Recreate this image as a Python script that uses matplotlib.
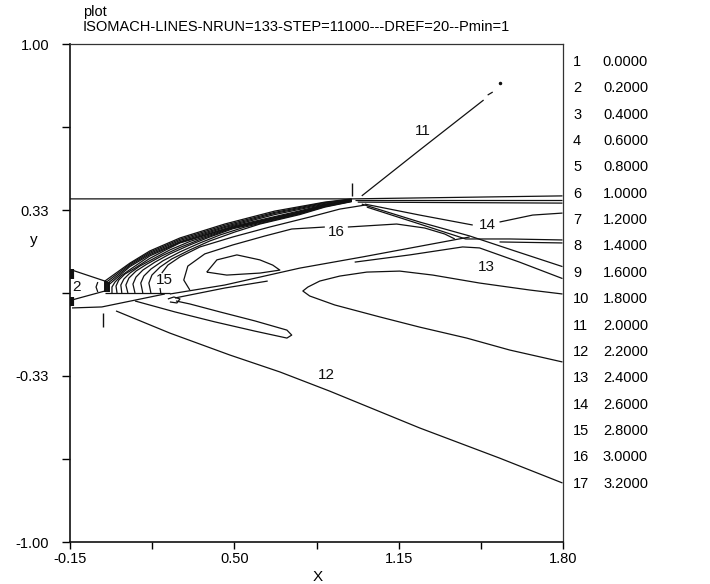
import matplotlib
matplotlib.use('Agg')
import matplotlib.pyplot as plt

plt.rcParams['font.family'] = ['Liberation Sans', 'DejaVu Sans']

# ---------------- text / ticks ----------------
title_top = "plot"
title_main = "ISOMACH-LINES-NRUN=133-STEP=11000---DREF=20--Pmin=1"
x_label = "X"
y_label = "y"

x_ticks = [-0.15, 0.175, 0.50, 0.825, 1.15, 1.475, 1.80]
x_tick_labels = ['-0.15', '', '0.50', '', '1.15', '', '1.80']
y_ticks = [-1.0, -0.6667, -0.3333, 0.0, 0.3333, 0.6667, 1.0]
y_tick_labels = ['-1.00', '', '-0.33', '', '0.33', '', '1.00']

level_ids = [1, 2, 3, 4, 5, 6, 7, 8, 9, 10, 11, 12, 13, 14, 15, 16, 17]
level_values = [0.0, 0.2, 0.4, 0.6, 0.8, 1.0, 1.2, 1.4, 1.6, 1.8,
                2.0, 2.2, 2.4, 2.6, 2.8, 3.0, 3.2]

# ---------------- contour-line data (x, y) ----------------
# outer shock bundle
env0_x = [-0.012, 0.087, 0.166, 0.285, 0.462, 0.660, 0.858, 0.964]
env0_y = [0.048, 0.120, 0.169, 0.221, 0.277, 0.329, 0.365, 0.378]
env1_x = [-0.008, 0.087, 0.166, 0.285, 0.462, 0.660, 0.858, 0.964]
env1_y = [0.042, 0.116, 0.164, 0.216, 0.272, 0.324, 0.363, 0.376]
env2_x = [-0.004, 0.087, 0.166, 0.285, 0.462, 0.660, 0.858, 0.964]
env2_y = [0.036, 0.111, 0.159, 0.211, 0.267, 0.320, 0.360, 0.375]
env3_x = [0.000, 0.087, 0.166, 0.285, 0.462, 0.660, 0.858, 0.964]
env3_y = [0.030, 0.106, 0.154, 0.206, 0.263, 0.315, 0.357, 0.373]

# fan lines rising from the plate
fan1_x = [0.016, 0.016, 0.028, 0.051, 0.087, 0.166, 0.285, 0.494, 0.759, 0.858, 0.964]
fan1_y = [0.000, 0.024, 0.044, 0.068, 0.094, 0.149, 0.203, 0.268, 0.330, 0.355, 0.372]
fan2_x = [0.036, 0.032, 0.043, 0.067, 0.107, 0.166, 0.225, 0.285, 0.494, 0.759, 0.858, 0.964]
fan2_y = [0.000, 0.028, 0.052, 0.076, 0.100, 0.139, 0.171, 0.201, 0.265, 0.327, 0.353, 0.371]
fan3_x = [0.055, 0.051, 0.063, 0.087, 0.126, 0.186, 0.245, 0.324, 0.494, 0.759, 0.858, 0.964]
fan3_y = [0.000, 0.032, 0.056, 0.080, 0.108, 0.141, 0.173, 0.207, 0.263, 0.325, 0.352, 0.371]
fan4_x = [0.079, 0.071, 0.083, 0.111, 0.154, 0.213, 0.285, 0.364, 0.494, 0.759, 0.858, 0.964]
fan4_y = [0.000, 0.032, 0.060, 0.088, 0.116, 0.149, 0.183, 0.215, 0.261, 0.322, 0.350, 0.370]
fan5_x = [0.107, 0.099, 0.111, 0.138, 0.186, 0.245, 0.324, 0.403, 0.494, 0.759, 0.858, 0.964]
fan5_y = [0.000, 0.036, 0.064, 0.092, 0.124, 0.157, 0.193, 0.225, 0.258, 0.320, 0.349, 0.369]
fan6_x = [0.138, 0.130, 0.142, 0.170, 0.217, 0.285, 0.364, 0.443, 0.542, 0.759, 0.858, 0.964]
fan6_y = [0.000, 0.040, 0.068, 0.096, 0.129, 0.165, 0.201, 0.233, 0.265, 0.318, 0.347, 0.368]
fan7_x = [0.170, 0.162, 0.174, 0.206, 0.253, 0.324, 0.403, 0.502, 0.601, 0.759, 0.858, 0.964]
fan7_y = [0.000, 0.040, 0.072, 0.104, 0.137, 0.173, 0.209, 0.245, 0.277, 0.315, 0.345, 0.367]

# level 15 line (split around its label)
l15a_x = [0.209, 0.206]
l15a_y = [0.000, 0.020]
l15b_x = [0.213, 0.237, 0.285, 0.364, 0.494, 0.640, 0.798, 0.917, 1.016]
l15b_y = [0.080, 0.112, 0.145, 0.185, 0.225, 0.265, 0.305, 0.337, 0.353]

# level 16 line (split around its label)
l16a_x = [0.324, 0.300, 0.316, 0.383, 0.494, 0.621, 0.727, 0.858]
l16a_y = [0.012, 0.052, 0.108, 0.157, 0.193, 0.229, 0.257, 0.265]
l16b_x = [0.949, 1.142, 1.253, 1.332, 1.372]
l16b_y = [0.265, 0.277, 0.261, 0.237, 0.217]

# island (closed)
island_x = [0.391, 0.431, 0.510, 0.601, 0.652, 0.680, 0.601, 0.470, 0.391]
island_y = [0.084, 0.133, 0.153, 0.133, 0.112, 0.092, 0.080, 0.072, 0.084]

# shear line from the trailing edge to the crossing
cross_x = [0.245, 0.462, 0.759, 1.008, 1.431]
cross_y = [-0.004, 0.032, 0.100, 0.145, 0.225]
short_x = [0.265, 0.462, 0.632]
short_y = [-0.020, 0.020, 0.048]

# level 13 region
c13_x = [1.798, 1.668, 1.470, 1.285, 1.154, 1.024, 0.917, 0.838, 0.791, 0.771,
         0.798, 0.897, 1.075, 1.233, 1.419, 1.589, 1.798]
c13_y = [-0.004, 0.012, 0.040, 0.072, 0.088, 0.084, 0.068, 0.048, 0.024, 0.008,
         -0.012, -0.048, -0.096, -0.137, -0.181, -0.229, -0.277]
lx_x = [0.976, 1.194, 1.403, 1.470, 1.628, 1.798]
lx_y = [0.124, 0.153, 0.185, 0.181, 0.124, 0.058]

# lines leaving the shock peak
la_x = [1.004, 1.233, 1.431, 1.609, 1.798]
la_y = [0.357, 0.285, 0.229, 0.169, 0.106]
lb_x = [1.024, 1.233, 1.415, 1.589, 1.798]
lb_y = [0.345, 0.277, 0.217, 0.217, 0.213]
l14a_x = [1.016, 1.233, 1.443]
l14a_y = [0.357, 0.313, 0.273]
l14b_x = [1.549, 1.680, 1.798]
l14b_y = [0.285, 0.313, 0.321]
lh_x = [1.549, 1.798]
lh_y = [0.205, 0.201]

# top wall and lines right of peak
wall_x = [-0.150, 0.964, 1.798]
wall_y = [0.378, 0.378, 0.390]
p2_x = [0.976, 1.391, 1.798]
p2_y = [0.373, 0.373, 0.373]
p3_x = [0.988, 1.391, 1.798]
p3_y = [0.365, 0.363, 0.361]

# body / nozzle
plate_x = [-0.012, 0.245]
plate_y = [0.000, 0.000]
lower_x = [-0.142, -0.024, 0.225]
lower_y = [-0.060, -0.056, -0.004]
noz_up_x = [-0.142, -0.012]
noz_up_y = [0.092, 0.048]
noz_lo_x = [-0.142, -0.012]
noz_lo_y = [-0.028, 0.008]
noz_arc_x = [-0.040, -0.047, -0.040]
noz_arc_y = [0.044, 0.024, 0.004]
blob_x = [-0.012, -0.006, 0.000, 0.006]
blob_top = [0.048, 0.048, 0.046, 0.044]
blob_bot = [0.004, 0.004, 0.004, 0.004]
mark_x = [-0.142, -0.142]
mark_top = [0.096, -0.016]
mark_bot = [0.056, -0.052]

# wake loop and curl
wake_x = [0.107, 0.265, 0.423, 0.581, 0.708, 0.727, 0.708, 0.581, 0.443, 0.324, 0.269]
wake_y = [-0.032, -0.076, -0.116, -0.153, -0.181, -0.169, -0.149, -0.112, -0.076, -0.044, -0.032]
curl_x = [0.237, 0.261, 0.285, 0.273, 0.245]
curl_y = [-0.024, -0.016, -0.024, -0.040, -0.036]

# level 12 line
l12_x = [0.032, 0.245, 0.482, 0.680, 0.877, 1.233, 1.549, 1.798]
l12_y = [-0.072, -0.161, -0.249, -0.317, -0.394, -0.542, -0.663, -0.763]

# level 11 oblique line
l11_x = [1.004, 1.233, 1.486]
l11_y = [0.390, 0.574, 0.775]
l11d_x = [1.502, 1.522]
l11d_y = [0.795, 0.807]
l11p_x = [1.549]
l11p_y = [0.843]

# tick markers
tick_x = [0.964, -0.020]
tick_top = [0.442, -0.080]
tick_bot = [0.390, -0.137]

# contour labels
clab_text = ['2', '11', '12', '13', '14', '15', '16']
clab_x = [-0.123, 1.245, 0.866, 1.498, 1.502, 0.225, 0.905]
clab_y = [0.024, 0.650, -0.329, 0.104, 0.273, 0.052, 0.245]

# ---------------- drawing ----------------
W, H = 710, 584
fig = plt.figure(figsize=(W / 100, H / 100), dpi=100)
ax = fig.add_axes([70 / W, 1 - 542 / H, 493 / W, 498 / H])
ax.set_xlim(-0.15, 1.80)
ax.set_ylim(-1.0, 1.0)

LC = '#111111'
LW = 0.9

lines = [
    (env0_x, env0_y), (env1_x, env1_y), (env2_x, env2_y), (env3_x, env3_y),
    (fan1_x, fan1_y), (fan2_x, fan2_y), (fan3_x, fan3_y), (fan4_x, fan4_y),
    (fan5_x, fan5_y), (fan6_x, fan6_y), (fan7_x, fan7_y),
    (l15a_x, l15a_y), (l15b_x, l15b_y), (l16a_x, l16a_y), (l16b_x, l16b_y),
    (island_x, island_y), (cross_x, cross_y), (short_x, short_y),
    (c13_x, c13_y), (lx_x, lx_y), (la_x, la_y), (lb_x, lb_y),
    (l14a_x, l14a_y), (l14b_x, l14b_y), (lh_x, lh_y),
    (wall_x, wall_y), (p2_x, p2_y), (p3_x, p3_y),
    (plate_x, plate_y), (lower_x, lower_y), (noz_up_x, noz_up_y),
    (noz_lo_x, noz_lo_y), (noz_arc_x, noz_arc_y),
    (wake_x, wake_y), (curl_x, curl_y), (l12_x, l12_y),
    (l11_x, l11_y), (l11d_x, l11d_y),
]
for lx, ly in lines:
    ax.plot(lx, ly, color=LC, lw=LW, solid_capstyle='butt')

ax.plot(l11p_x, l11p_y, 'o', color=LC, ms=1.5)
ax.vlines(blob_x, blob_bot, blob_top, color=LC, lw=1.4)
ax.vlines(mark_x, mark_bot, mark_top, color=LC, lw=3.0)
ax.vlines(tick_x, tick_bot, tick_top, color=LC, lw=1.0)

for s, tx, ty in zip(clab_text, clab_x, clab_y):
    ax.text(tx, ty, s, ha='center', va='center', fontsize=11, color=LC)

# axes styling
for side in ['left', 'bottom']:
    ax.spines[side].set_linewidth(1.2)
    ax.spines[side].set_color('#111111')
for side in ['top', 'right']:
    ax.spines[side].set_linewidth(0.9)
    ax.spines[side].set_color('#333333')

ax.set_xticks(x_ticks)
ax.set_xticklabels(x_tick_labels)
ax.set_yticks(y_ticks)
ax.set_yticklabels(y_tick_labels)
ax.tick_params(axis='x', direction='out', length=5, width=1, pad=2, labelsize=10.5)
ax.tick_params(axis='y', direction='out', length=6, width=1, pad=9, labelsize=10.5)

fig.text(34 / W, 1 - 240 / H, y_label, ha='center', va='center', fontsize=11)
fig.text(318 / W, 1 - 577 / H, x_label, ha='center', va='center', fontsize=11)
fig.text(83 / W, 1 - 12 / H, title_top, ha='left', va='center', fontsize=10.5)
fig.text(83 / W, 1 - 27 / H, title_main, ha='left', va='center', fontsize=10.5)

for i, (lid, val) in enumerate(zip(level_ids, level_values)):
    yy = 1 - (62 + 26.35 * i) / H
    fig.text(573 / W, yy, str(lid), ha='left', va='center', fontsize=10.5)
    fig.text(648 / W, yy, f'{val:.4f}', ha='right', va='center', fontsize=10.5)

fig.savefig('out.png', dpi=100)
